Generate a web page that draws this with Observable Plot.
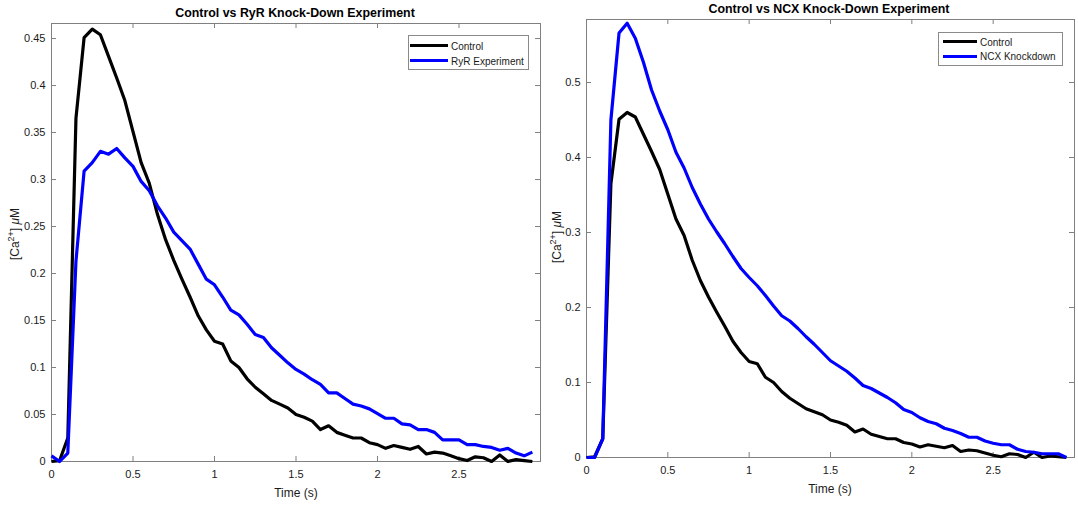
<!DOCTYPE html>
<html><head><meta charset="utf-8">
<script src="https://cdn.jsdelivr.net/npm/d3@7"></script>
<script src="https://cdn.jsdelivr.net/npm/@observablehq/plot@0.6"></script>
<style>
html,body{margin:0;padding:0;background:#fff;}
#root{position:relative;width:1078px;height:506px;overflow:hidden;font-family:"Liberation Sans",Arial,Helvetica,sans-serif;color:#1a1a1a;}
.abs{position:absolute;white-space:nowrap;}
.ctr{transform:translate(-50%,-50%);}
.title{font-weight:bold;font-size:12.4px;color:#000;}
.xlab{font-size:12px;}
.ylab{font-size:12px;transform:translate(-50%,-50%) rotate(-90deg);}
.ylab sup{font-size:9px;vertical-align:5px;line-height:0;}
.legend{border:1px solid #8a8a8a;background:#fff;box-sizing:border-box;}
.sw{height:3px;}
.lt{font-size:10px;transform:translateY(-50%);}
svg{position:absolute;top:0;}
</style></head><body><div id="root"></div>
<script>
// ---- data ----
const time = [0,0.05,0.1,0.15,0.2,0.25,0.3,0.35,0.4,0.45,0.5,0.55,0.6,0.65,0.7,0.75,0.8,0.85,0.9,0.95,
  1.0,1.05,1.1,1.15,1.2,1.25,1.3,1.35,1.4,1.45,1.5,1.55,1.6,1.65,1.7,1.75,1.8,1.85,1.9,1.95,
  2.0,2.05,2.1,2.15,2.2,2.25,2.3,2.35,2.4,2.45,2.5,2.55,2.6,2.65,2.7,2.75,2.8,2.85,2.9,2.95];
const control = [0,0.001,0.025,0.365,0.451,0.460,0.454,0.431,0.408,0.384,0.351,0.318,0.296,0.263,0.236,0.214,0.194,0.175,0.155,0.140,
  0.128,0.125,0.107,0.100,0.088,0.079,0.072,0.065,0.061,0.057,0.050,0.047,0.043,0.034,0.038,0.031,0.028,0.025,0.025,0.020,
  0.018,0.014,0.017,0.015,0.013,0.016,0.008,0.010,0.009,0.006,0.003,0.001,0.005,0.004,0.000,0.007,0.000,0.002,0.001,0.000];
const ryr = [0.006,0.000,0.009,0.213,0.309,0.318,0.330,0.327,0.333,0.323,0.314,0.298,0.288,0.272,0.259,0.244,0.235,0.226,0.210,0.194,
  0.188,0.175,0.161,0.156,0.146,0.135,0.132,0.121,0.113,0.105,0.098,0.093,0.087,0.082,0.073,0.073,0.067,0.061,0.059,0.056,
  0.051,0.046,0.046,0.040,0.039,0.034,0.034,0.031,0.023,0.023,0.023,0.018,0.018,0.016,0.015,0.012,0.014,0.009,0.006,0.010];
const ncx = [0,0,0.025,0.450,0.566,0.579,0.559,0.527,0.490,0.462,0.437,0.407,0.386,0.360,0.338,0.318,0.301,0.285,0.268,0.252,
  0.240,0.229,0.216,0.202,0.189,0.182,0.172,0.161,0.151,0.140,0.129,0.122,0.115,0.106,0.096,0.092,0.086,0.080,0.073,0.064,
  0.060,0.053,0.048,0.045,0.039,0.036,0.032,0.027,0.027,0.022,0.019,0.017,0.017,0.011,0.008,0.007,0.005,0.005,0.005,0.000];
const leftNames = ["Control","RyR Experiment"];
const rightNames = ["Control","NCX Knockdown"];
const leftTitle = "Control vs RyR Knock-Down Experiment";
const rightTitle = "Control vs NCX Knock-Down Experiment";
const xLabel = "Time (s)";
const xTicks = [0,0.5,1,1.5,2,2.5];
const xTickLabels = ["0","0.5","1","1.5","2","2.5"];
const leftYTicks = [0,0.05,0.1,0.15,0.2,0.25,0.3,0.35,0.4,0.45];
const leftYTickLabels = ["0","0.05","0.1","0.15","0.2","0.25","0.3","0.35","0.4","0.45"];
const rightYTicks = [0,0.1,0.2,0.3,0.4,0.5];
const rightYTickLabels = ["0","0.1","0.2","0.3","0.4","0.5"];
const seriesColors = ["#000000","#0000ff"];

// ---- drawing ----
const root = document.getElementById("root");
const FONT = '"Liberation Sans",Arial,Helvetica,sans-serif';
const AXC = "#808080";

function panel(o) {
  const data = o.series.flatMap((vals, k) => vals.map((v, i) => ({t: time[i], v, s: o.names[k]})));
  const ph = o.height - o.mt - o.mb, pw = o.width - o.ml - o.mr;
  const xl = new Map(xTicks.map((d, i) => [d, xTickLabels[i]]));
  const yl = new Map(o.yTicks.map((d, i) => [d, o.yTickLabels[i]]));
  const svg = Plot.plot({
    width: o.width, height: o.height,
    marginLeft: o.ml, marginRight: o.mr, marginTop: o.mt, marginBottom: o.mb,
    x: {domain: [0, 3]},
    y: {domain: o.yDomain},
    color: {domain: o.names, range: seriesColors},
    style: {fontFamily: FONT, fontSize: "11px", color: "#1a1a1a", background: "transparent", overflow: "visible"},
    marks: [
      Plot.frame({stroke: AXC, strokeWidth: 1}),
      Plot.tickX(xTicks, {x: d => d, stroke: AXC, insetTop: ph - 5}),
      Plot.tickX(xTicks, {x: d => d, stroke: AXC, insetBottom: ph - 5}),
      Plot.tickY(o.yTicks, {y: d => d, stroke: AXC, insetRight: pw - 5}),
      Plot.tickY(o.yTicks, {y: d => d, stroke: AXC, insetLeft: pw - 5}),
      Plot.line(data, {x: "t", y: "v", z: "s", stroke: "s", strokeWidth: 3.2, strokeLinejoin: "round", strokeLinecap: "butt"}),
      Plot.axisX(xTicks, {tickSize: 0, tickPadding: 9, tickFormat: d => xl.get(d), label: null}),
      Plot.axisY(o.yTicks, {tickSize: 0, tickPadding: 6, tickFormat: d => yl.get(d), label: null})
    ]
  });
  svg.style.left = o.left + "px";
  root.appendChild(svg);

  const add = (html, cls, x, y, extra = "") => {
    const d = document.createElement("div");
    d.className = "abs " + cls;
    d.style.cssText = `left:${x}px;top:${y}px;${extra}`;
    d.innerHTML = html;
    root.appendChild(d);
    return d;
  };
  add(o.title, "title ctr", o.titleX, o.titleY);
  add(xLabel, "xlab ctr", o.xlabX, o.xlabY);
  add('[Ca<sup>2+</sup>] <i>&mu;</i>M', "ylab", o.ylabX, o.ylabY);
  // legend
  const L = o.legend;
  add("", "legend", L.x, L.y, `width:${L.w}px;height:${L.h}px;`);
  o.names.forEach((n, k) => {
    add("", "sw", L.lx, L.rows[k] - 1.5, `width:${L.lw}px;background:${seriesColors[k]};`);
    add(n, "lt", L.tx, L.rows[k]);
  });
}

panel({
  left: 0, width: 545, height: 506, ml: 51, mr: 5, mt: 23, mb: 45,
  series: [control, ryr], names: leftNames, yDomain: [0, 0.466],
  yTicks: leftYTicks, yTickLabels: leftYTickLabels,
  title: leftTitle, titleX: 295, titleY: 13,
  xlabX: 296, xlabY: 493, ylabX: 15, ylabY: 234,
  legend: {x: 408, y: 35, w: 121, h: 35, lx: 410, lw: 38, tx: 451, rows: [45.7, 60.7]}
});
panel({
  left: 545, width: 533, height: 506, ml: 41, mr: 4, mt: 19, mb: 49,
  series: [control, ncx], names: rightNames, yDomain: [0, 0.584],
  yTicks: rightYTicks, yTickLabels: rightYTickLabels,
  title: rightTitle, titleX: 829, titleY: 9,
  xlabX: 830, xlabY: 489, ylabX: 557, ylabY: 237,
  legend: {x: 938, y: 32, w: 125, h: 34, lx: 943, lw: 34, tx: 980, rows: [41.7, 56]}
});
</script>
</body></html>
